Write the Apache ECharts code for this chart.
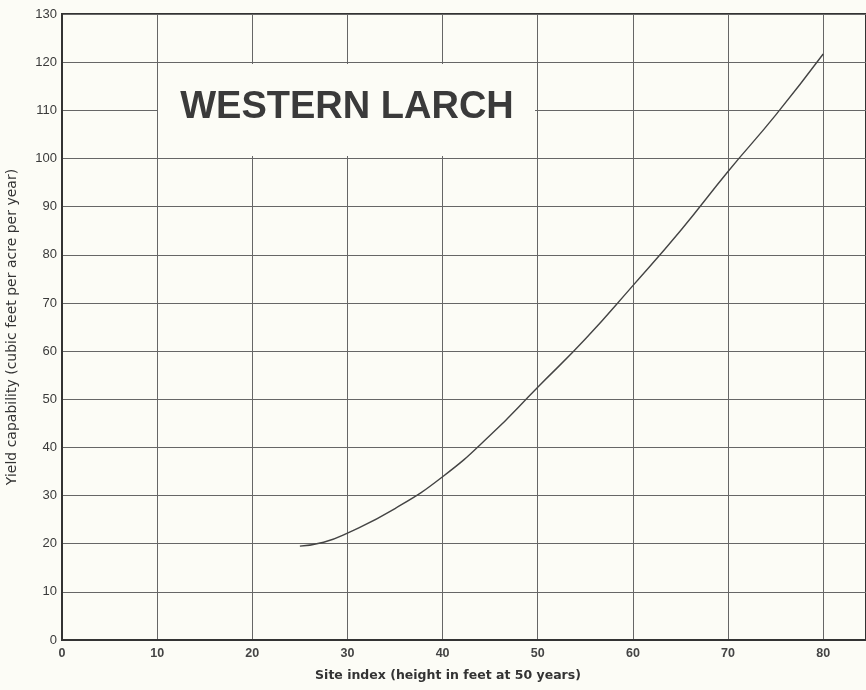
<!DOCTYPE html>
<html>
<head>
<meta charset="utf-8">
<script src="https://cdn.jsdelivr.net/npm/echarts@6/dist/echarts.min.js"></script>
<style>
html,body{margin:0;padding:0;background:#fcfcf6;}
#chart{width:866px;height:690px;}
</style>
</head>
<body>
<div id="chart"></div>
<script>
var chartTitle = 'WESTERN LARCH';
var xAxisName = 'Site index (height in feet at 50 years)';
var yAxisName = 'Yield capability (cubic feet per acre per year)';
var siteIndex = [25, 27.5, 30, 35, 40, 45, 50, 55, 60, 65, 70, 75, 80];
var yieldCap  = [19.5, 20.3, 22.2, 27.3, 33.9, 42.5, 52.5, 62.5, 73.6, 85, 97.3, 109, 121.7];

var curve = siteIndex.map(function (x, i) { return [x, yieldCap[i]]; });

var chart = echarts.init(document.getElementById('chart'), null, {renderer: 'canvas'});
chart.setOption({
  backgroundColor: '#fcfcf6',
  animation: false,
  grid: {left: 62, top: 14, right: 0, bottom: 50, outerBoundsMode: 'none', containLabel: false,
         show: true, borderColor: '#333', borderWidth: 2, backgroundColor: 'transparent'},
  xAxis: {
    type: 'value', min: 0, max: 84.5, interval: 10,
    name: xAxisName, nameLocation: 'middle', nameGap: 29,
    nameTextStyle: {fontFamily: 'DejaVu Sans, sans-serif', fontSize: 12.5, fontWeight: 'bold', color: '#333', padding: [0, 32, 0, 0]},
    axisLine: {show: true, lineStyle: {color: '#333', width: 2}},
    axisTick: {show: false},
    axisLabel: {showMaxLabel: false, margin: 7, fontFamily: 'Liberation Sans, Arial, sans-serif', fontSize: 12.5, fontWeight: 'bold', color: '#444'},
    splitLine: {show: true, lineStyle: {color: '#666', width: 1}}
  },
  yAxis: {
    type: 'value', min: 0, max: 130, interval: 10,
    name: yAxisName, nameLocation: 'middle', nameGap: 43,
    nameTextStyle: {fontFamily: 'DejaVu Sans, sans-serif', fontSize: 14, color: '#333'},
    axisLine: {show: true, lineStyle: {color: '#333', width: 2}},
    axisTick: {show: false},
    axisLabel: {margin: 5, fontFamily: 'Liberation Sans, Arial, sans-serif', fontSize: 13, color: '#3a3a3a'},
    splitLine: {show: true, lineStyle: {color: '#666', width: 1}}
  },
  graphic: [
    {type: 'rect', shape: {x: 158, y: 64, width: 377, height: 92}, style: {fill: '#fcfcf6'}, z: 10},
    {type: 'text', x: 347, y: 108, style: {text: chartTitle, fontFamily: 'Liberation Sans, Arial, sans-serif', fontSize: 38, fontWeight: 'bold', fill: '#3a3a3a', align: 'center', verticalAlign: 'middle'}, z: 11}
  ],
  series: [{
    type: 'line', data: curve, smooth: true, showSymbol: false,
    lineStyle: {color: '#444', width: 1.4}
  }]
});
</script>
</body>
</html>
